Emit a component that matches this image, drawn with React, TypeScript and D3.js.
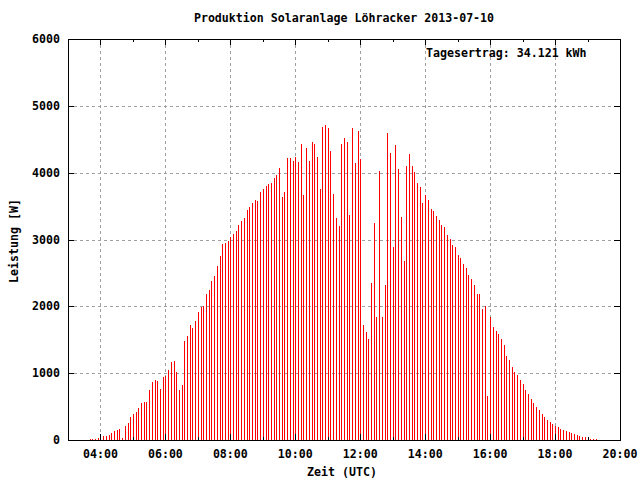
import React from "react";
import * as d3 from "d3";

// Time series: 5-minute samples starting at 03:40 UTC
const startMinutes = 3 * 60 + 40;
const stepMinutes = 5;
const values: number[] = [
  15, 15, 15, 30, 55, 55, 60, 75, 105, 135, 150, 165, 30, 210, 255, 345, 390, 420, 480, 555, 570, 570, 750, 870, 900, 885, 765, 945, 960, 1050, 1170, 1185,
  1018, 749, 823, 1482, 1557, 1722, 1677, 1781, 1916, 1991, 2006, 2186, 2245, 2380, 2455, 2605, 2754, 2934, 2949, 2979, 3039, 3084, 3129, 3219, 3278, 3323, 3443, 3488, 3548, 3593, 3578,
  3713, 3758, 3803, 3833, 3848, 3922, 3967, 4072, 3638, 3713, 4222, 4222, 4177, 4237, 4162, 4431, 3668, 4371, 4177, 4461, 4431, 4237, 3758, 4686, 4716, 4671, 4326, 3683, 3323, 3204, 4431,
  4521, 4461, 3368, 4671, 4147, 4626, 4207, 1722, 1617, 1512, 2350, 3248, 1841, 4027, 1841, 2320, 4596, 4296, 2889, 4416, 4057, 3338, 2680, 4102, 4281, 4102, 4012, 3848, 3788, 3548, 3668,
  3593, 3458, 3428, 3353, 3293, 3219, 3189, 3069, 3009, 2919, 2889, 2769, 2725, 2635, 2575, 2470, 2410, 2320, 2186, 2186, 1961, 2006, 659, 1841, 1692, 1632, 1587, 1512, 1422, 1258, 1198,
  1093, 1018, 973, 898, 838, 749, 689, 614, 554, 494, 449, 389, 344, 299, 269, 240, 210, 195, 165, 150, 135, 120, 105, 90, 75, 60, 45, 45, 30, 15, 15, 15,
];

const xMajorTicks = [240, 360, 480, 600, 720, 840, 960, 1080, 1200];
const xMinorTicks = [180, 300, 420, 540, 660, 780, 900, 1020, 1140];
const yTicks = [0, 1000, 2000, 3000, 4000, 5000, 6000];

const title = "Produktion Solaranlage Löhracker 2013-07-10";
const xLabel = "Zeit (UTC)";
const yLabel = "Leistung [W]";
const note = "Tagesertrag: 34.121 kWh";

const W = 640;
const H = 480;
const L = 68, R = 620, T = 39, B = 440;

const font = "'DejaVu Sans Mono', 'Liberation Mono', monospace";

function fmtTime(m: number) {
  const h = Math.floor(m / 60);
  const mm = m % 60;
  return `${String(h).padStart(2, "0")}:${String(mm).padStart(2, "0")}`;
}

export default function App() {
  const x = d3.scaleLinear().domain([180, 1200]).range([L, R]);
  const y = d3.scaleLinear().domain([0, 6000]).range([B, T]);
  const px = (v: number) => Math.round(v) + 0.5;

  return (
    <svg width={W} height={H} style={{ position: "absolute", left: 0, top: 0, background: "#fff" }}
      fontFamily={font} fontWeight="bold" fontSize={11.6}>
      <rect x={0} y={0} width={W} height={H} fill="#fff" />
      {/* grid */}
      {yTicks.filter(t => t > 0 && t < 6000).map(t => (
        <line key={"gy" + t} x1={L} x2={R} y1={px(y(t))} y2={px(y(t))} stroke="#a0a0a0" strokeDasharray="3,3" />
      ))}
      {xMajorTicks.filter(t => t < 1200).map(t => (
        <line key={"gx" + t} y1={T} y2={B} x1={px(x(t))} x2={px(x(t))} stroke="#a0a0a0" strokeDasharray="3,3" />
      ))}
      {/* bars */}
      {values.map((v, i) => {
        const t = startMinutes + i * stepMinutes;
        const xx = px(x(t));
        return <line key={"b" + i} x1={xx} x2={xx} y1={B} y2={Math.round(y(v))} stroke="#ff0000" strokeWidth={1} />;
      })}
      {/* ticks */}
      {yTicks.map(t => (
        <g key={"ty" + t}>
          <line x1={L} x2={L + 6} y1={px(y(t))} y2={px(y(t))} stroke="#000" />
          <line x1={R - 6} x2={R} y1={px(y(t))} y2={px(y(t))} stroke="#000" />
          <text x={60} y={y(t) + 4} textAnchor="end">{t}</text>
        </g>
      ))}
      {xMajorTicks.map(t => (
        <g key={"tx" + t}>
          <line x1={px(x(t))} x2={px(x(t))} y1={B} y2={B - 6} stroke="#000" />
          <line x1={px(x(t))} x2={px(x(t))} y1={T} y2={T + 6} stroke="#000" />
          <text x={x(t)} y={458} textAnchor="middle">{fmtTime(t)}</text>
        </g>
      ))}
      {xMinorTicks.map(t => (
        <g key={"tm" + t}>
          <line x1={px(x(t))} x2={px(x(t))} y1={B} y2={B - 3} stroke="#000" />
          <line x1={px(x(t))} x2={px(x(t))} y1={T} y2={T + 3} stroke="#000" />
        </g>
      ))}
      {/* border */}
      <rect x={L + 0.5} y={T + 0.5} width={R - L} height={B - T} fill="none" stroke="#000" />
      {/* texts */}
      <text x={344} y={22} textAnchor="middle">{title}</text>
      <text x={426} y={57}>{note}</text>
      <text x={342} y={476} textAnchor="middle">{xLabel}</text>
      <text transform="translate(18,241) rotate(-90)" textAnchor="middle">{yLabel}</text>
    </svg>
  );
}
